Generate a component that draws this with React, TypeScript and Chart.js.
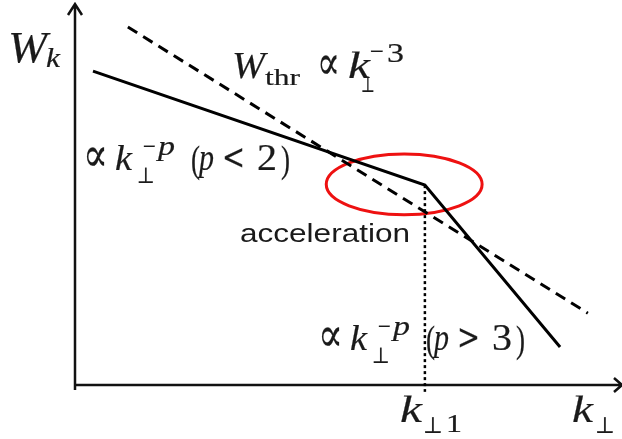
import { useEffect, useRef } from "react";
import { Chart, registerables } from "chart.js";

Chart.register(...registerables);

// Schematic spectrum W_k vs k_perp (axis units 0..100)
const waveX = [3.3, 64.2, 89.0];
const waveY = [82.6, 52.6, 10.0];
const thrX = [9.7, 94.1];
const thrY = [94.2, 18.9];
const kBreak = 64.2;
const breakY = [52.6, -1.8];
const accelCenter = [60.4, 52.8];
const accelRadius = [14.3, 8.0];

const MATH = "'Liberation Serif','DejaVu Serif',serif";
const SYM = "'DejaVu Serif','Liberation Serif',serif";
const SANS = "'Liberation Sans',Arial,sans-serif";

type Run = { t: string; x: number; y: number; s: number; i?: boolean; w?: number; f?: string };

const lowLabel = (dx: number, dy: number, rel: string, num: string): Run[] => [
  { t: "∝", x: 83 + dx, y: 171 + dy, s: 48, w: 25, f: SYM },
  { t: "k", x: 115 + dx, y: 170 + dy, s: 36, i: true, w: 17 },
  { t: "⊥", x: 137 + dx, y: 183 + dy, s: 22, w: 18, f: SYM },
  { t: "−", x: 143 + dx, y: 155 + dy, s: 26, w: 13 },
  { t: "p", x: 158 + dx, y: 155 + dy, s: 27, i: true, w: 17 },
  { t: "(", x: 191 + dx, y: 172 + dy, s: 38, w: 9 },
  { t: "p", x: 199 + dx, y: 170 + dy, s: 37, i: true, w: 15 },
  { t: rel, x: 222 + dx, y: 169 + dy, s: 36, w: 23, f: SYM },
  { t: num, x: 257 + dx, y: 170 + dy, s: 37, w: 20 },
  { t: ")", x: 281 + dx, y: 172 + dy, s: 38, w: 9 },
];

const LABELS: Run[] = [
  { t: "W", x: 8, y: 62, s: 44, i: true, w: 39 },
  { t: "k", x: 46, y: 67, s: 28, i: true, w: 14 },
  { t: "W", x: 232, y: 78, s: 37, i: true, w: 33 },
  { t: "thr", x: 265, y: 85, s: 24, w: 35 },
  { t: "∝", x: 317, y: 79, s: 48, w: 23, f: SYM },
  { t: "k", x: 348, y: 78, s: 37, i: true, w: 22 },
  { t: "⊥", x: 361, y: 92, s: 22, w: 14, f: SYM },
  { t: "−", x: 370, y: 60, s: 26, w: 14 },
  { t: "3", x: 387, y: 62, s: 28, w: 17 },
  ...lowLabel(0, 0, "<", "2"),
  ...lowLabel(235, 180, ">", "3"),
  { t: "k", x: 400, y: 422, s: 38, i: true, w: 22 },
  { t: "⊥", x: 423, y: 433, s: 23, w: 20, f: SYM },
  { t: "1", x: 446, y: 432, s: 25, w: 16 },
  { t: "k", x: 572, y: 422, s: 38, i: true, w: 21 },
  { t: "⊥", x: 595, y: 433, s: 23, w: 20, f: SYM },
  { t: "acceleration", x: 240, y: 242, s: 26, w: 170, f: SANS },
];

const overlay = {
  id: "overlay",
  beforeDatasetsDraw(chart: any) {
    const { ctx, scales } = chart;
    const xs = scales.x, ys = scales.y;
    const left = xs.getPixelForValue(0);
    const right = xs.getPixelForValue(100);
    const bottom = ys.getPixelForValue(0);
    const top = ys.getPixelForValue(100);
    ctx.save();
    ctx.strokeStyle = "#111";
    ctx.lineWidth = 2.5;
    ctx.lineCap = "butt";
    ctx.beginPath();
    ctx.moveTo(left, bottom + 5);
    ctx.lineTo(left, top - 1);
    ctx.moveTo(left - 7, top + 10);
    ctx.lineTo(left, top - 1);
    ctx.lineTo(left + 7, top + 10);
    ctx.moveTo(left - 1, bottom);
    ctx.lineTo(right + 2, bottom);
    ctx.moveTo(right - 6, bottom - 7);
    ctx.lineTo(right + 2, bottom);
    ctx.lineTo(right - 6, bottom + 7);
    ctx.stroke();
    // acceleration ellipse
    const cx = xs.getPixelForValue(accelCenter[0]);
    const cy = ys.getPixelForValue(accelCenter[1]);
    const rx = Math.abs(xs.getPixelForValue(accelCenter[0] + accelRadius[0]) - cx);
    const ry = Math.abs(ys.getPixelForValue(accelCenter[1] + accelRadius[1]) - cy);
    ctx.strokeStyle = "#ee1111";
    ctx.lineWidth = 3;
    ctx.beginPath();
    ctx.ellipse(cx, cy, rx, ry, 0, 0, Math.PI * 2);
    ctx.stroke();
    ctx.restore();
  },
  afterDatasetsDraw(chart: any) {
    const { ctx } = chart;
    ctx.save();
    ctx.fillStyle = "#1a1a1a";
    ctx.strokeStyle = "#1a1a1a";
    ctx.lineWidth = 0.2;
    ctx.textBaseline = "alphabetic";
    ctx.textAlign = "left";
    for (const r of LABELS) {
      ctx.font = `${r.i ? "italic " : ""}${r.s}px ${r.f || MATH}`;
      const m = ctx.measureText(r.t).width;
      const sx = r.w && m > 0 ? r.w / m : 1;
      ctx.save();
      ctx.translate(r.x, r.y);
      ctx.scale(sx, 1);
      ctx.fillText(r.t, 0, 0);
      if (r.f !== SANS) ctx.strokeText(r.t, 0, 0);
      ctx.restore();
    }
    ctx.restore();
  },
};

export default function App() {
  const ref = useRef<HTMLCanvasElement | null>(null);
  useEffect(() => {
    document.body.style.margin = "0";
    const canvas = ref.current;
    if (!canvas) return;
    const chart = new Chart(canvas, {
      type: "scatter",
      data: {
        datasets: [
          {
            label: "W_k",
            data: waveX.map((x, i) => ({ x, y: waveY[i] })),
            showLine: true,
            borderColor: "#000",
            borderWidth: 3,
            pointRadius: 0,
            tension: 0,
          },
          {
            label: "W_thr",
            data: thrX.map((x, i) => ({ x, y: thrY[i] })),
            showLine: true,
            borderColor: "#000",
            borderWidth: 3,
            borderDash: [11, 7],
            pointRadius: 0,
          },
          {
            label: "k1",
            data: breakY.map((y) => ({ x: kBreak, y })),
            showLine: true,
            borderColor: "#000",
            borderWidth: 2.5,
            borderDash: [3, 3],
            pointRadius: 0,
            clip: false,
          } as any,
        ],
      },
      options: {
        animation: false,
        responsive: true,
        maintainAspectRatio: false,
        layout: { padding: { left: 75, right: 2, top: 5, bottom: 54 } },
        plugins: { legend: { display: false }, tooltip: { enabled: false } },
        scales: {
          x: { type: "linear", min: 0, max: 100, display: false },
          y: { type: "linear", min: 0, max: 100, display: false },
        },
      },
      plugins: [overlay],
    });
    return () => chart.destroy();
  }, []);
  return (
    <div style={{ position: "absolute", left: 0, top: 0, width: 622, height: 439, background: "#fff" }}>
      <canvas ref={ref} />
    </div>
  );
}
